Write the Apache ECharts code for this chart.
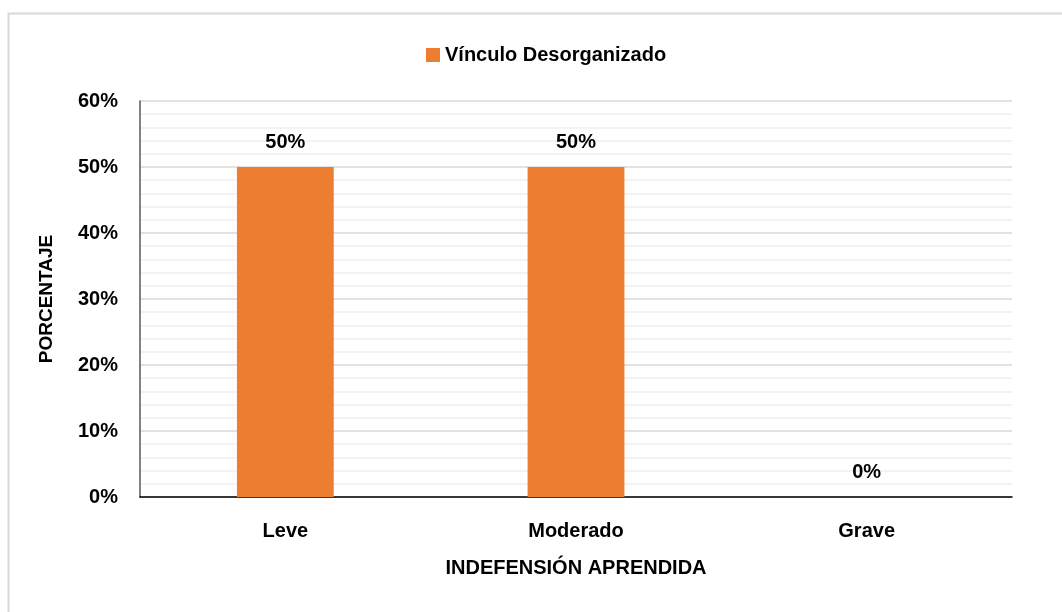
<!DOCTYPE html>
<html>
<head>
<meta charset="utf-8">
<script src="https://cdn.jsdelivr.net/npm/echarts@6/dist/echarts.min.js"></script>
<style>
  html, body { margin: 0; padding: 0; background: #fff; }
  #grafico { width: 1062px; height: 612px; }
</style>
</head>
<body>
<div id="grafico"></div>
<script>
// Datos del gráfico
const categorias = ['Leve', 'Moderado', 'Grave'];
const valores = [50, 50, 0];
const nombreSerie = 'Vínculo Desorganizado';

const fuente = '"Liberation Sans", Arial, sans-serif';

const grafico = echarts.init(document.getElementById('grafico'));

grafico.setOption({
    animation: false,
    backgroundColor: '#fff',
    graphic: [{
        type: 'rect',
        shape: { x: 8.5, y: 13.5, width: 1070, height: 620 },
        style: { fill: 'none', stroke: '#d9d9d9', lineWidth: 2 }
    }],
    legend: {
        top: 40,
        left: 421,
        itemWidth: 14,
        itemHeight: 14,
        icon: 'rect',
        itemGap: 5,
        textStyle: { fontFamily: fuente, fontWeight: 'bold', fontSize: 20, color: '#000' },
        data: [nombreSerie]
    },
    grid: { left: 140, right: 50, top: 101, bottom: 115 },
    xAxis: {
        type: 'category',
        data: categorias,
        name: 'INDEFENSIÓN APRENDIDA',
        nameLocation: 'middle',
        nameGap: 61,
        nameTextStyle: { fontFamily: fuente, fontWeight: 'bold', fontSize: 20, color: '#000' },
        axisLine: { lineStyle: { color: '#000', width: 1.5 } },
        axisTick: { show: false },
        axisLabel: { fontFamily: fuente, fontWeight: 'bold', fontSize: 20, color: '#000', margin: 24 }
    },
    yAxis: {
        type: 'value',
        min: 0,
        max: 60,
        interval: 10,
        name: 'PORCENTAJE',
        nameLocation: 'middle',
        nameGap: 84,
        nameTextStyle: { fontFamily: fuente, fontWeight: 'bold', fontSize: 19, color: '#000' },
        axisLine: { show: true, lineStyle: { color: '#595959', width: 1.5 } },
        axisTick: { show: false },
        axisLabel: {
            fontFamily: fuente, fontWeight: 'bold', fontSize: 20, color: '#000', margin: 22,
            formatter: v => v + '%'
        },
        splitLine: { lineStyle: { color: '#d9d9d9', width: 1.5 } },
        minorTick: { show: false, splitNumber: 5 },
        minorSplitLine: { show: true, lineStyle: { color: '#f0f0f0', width: 1.5 } }
    },
    series: [{
        name: nombreSerie,
        type: 'bar',
        data: valores,
        barWidth: '33.3%',
        itemStyle: { color: '#ed7d31' },
        label: {
            show: true,
            position: 'top',
            distance: 15,
            formatter: p => p.value + '%',
            fontFamily: fuente, fontWeight: 'bold', fontSize: 20, color: '#000'
        }
    }]
});
</script>
</body>
</html>
